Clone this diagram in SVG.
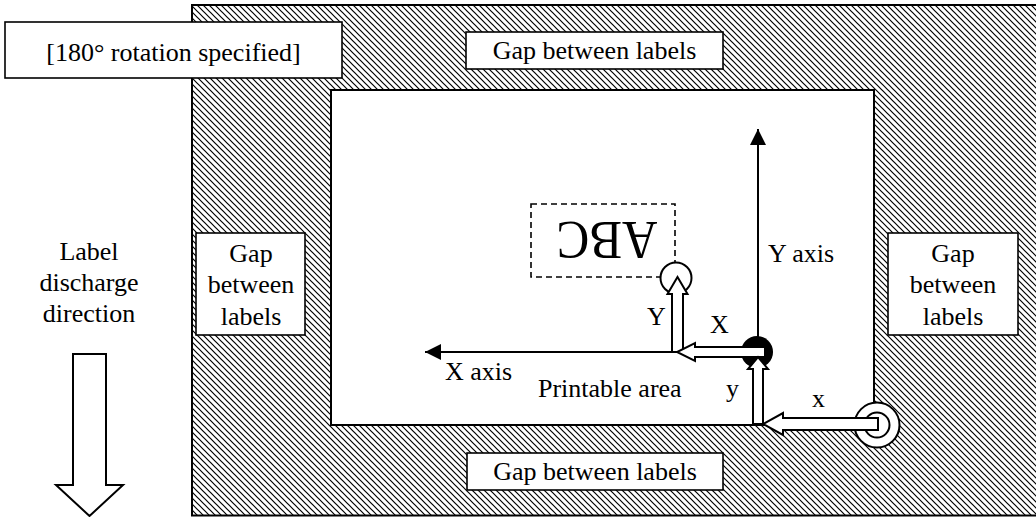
<svg xmlns="http://www.w3.org/2000/svg" width="1036" height="517" viewBox="0 0 1036 517">
<style>
text{font-family:"Liberation Serif","Times New Roman",serif;font-size:26px;fill:#000}
.c{text-anchor:middle}
.box{fill:#fff;stroke:#000;stroke-width:1.6}
.blk{fill:#fff;stroke:#000;stroke-width:2;stroke-linejoin:miter}
.axis{stroke:#000;stroke-width:2;fill:none}
</style>
<defs>
<pattern id="hatch" width="6" height="6" patternUnits="userSpaceOnUse">
<rect width="6" height="6" fill="#fff"/>
<path d="M-1,-1 L7,7 M-1,5 L1,7 M5,-1 L7,1" stroke="#000" stroke-width="1.2"/>
</pattern>
<marker id="ah" markerWidth="16" markerHeight="16" refX="16" refY="8" orient="auto" markerUnits="userSpaceOnUse">
<path d="M0,0 L16,8 L0,16 Z" fill="#000"/>
</marker>
</defs>

<g id="label-area">
<rect x="192" y="5" width="850" height="510.5" fill="url(#hatch)" stroke="#000" stroke-width="2"/>
</g>
<g id="printable-area">
<rect x="331" y="90" width="543" height="335" fill="#fff" stroke="#000" stroke-width="2"/>
<text x="538" y="397">Printable area</text>
</g>

<g id="rotation-note">
<rect class="box" x="5" y="22" width="337" height="56"/>
<text class="c" x="173.5" y="61">[180° rotation specified]</text>
</g>
<g id="gap-top">
<rect class="box" x="466" y="32" width="257" height="37"/>
<text class="c" x="594.5" y="59">Gap between labels</text>
</g>
<g id="gap-bottom">
<rect class="box" x="467" y="453" width="256" height="37"/>
<text class="c" x="595" y="480">Gap between labels</text>
</g>
<g id="gap-left">
<rect class="box" x="196" y="233" width="109" height="102"/>
<text class="c" x="251" y="262">Gap</text>
<text class="c" x="251" y="293">between</text>
<text class="c" x="251" y="325">labels</text>
</g>
<g id="gap-right">
<rect class="box" x="888" y="233" width="130" height="102"/>
<text class="c" x="953" y="262">Gap</text>
<text class="c" x="953" y="293">between</text>
<text class="c" x="953" y="325">labels</text>
</g>

<g id="discharge-direction">
<text class="c" x="89" y="260">Label</text>
<text class="c" x="89" y="291">discharge</text>
<text class="c" x="89" y="322">direction</text>
<polygon class="blk" points="73,354 106,354 106,485 123,485 89.5,516 56,485 73,485"/>
</g>

<g id="print-sample">
<rect x="531" y="204" width="144" height="73" fill="none" stroke="#000" stroke-width="1.6" stroke-dasharray="6 4"/>
<text class="c" transform="translate(607,222) rotate(180)" style="font-size:54px" textLength="101" lengthAdjust="spacingAndGlyphs">ABC</text>
</g>

<g id="connectors">
<line class="axis" x1="758" y1="345" x2="758" y2="129" marker-end="url(#ah)"/>
<line class="axis" x1="677" y1="352" x2="425" y2="352" marker-end="url(#ah)"/>
</g>

<g id="origin">
<circle cx="757" cy="352" r="16" fill="#000"/>
</g>
<g id="print-origin">
<circle cx="676" cy="278" r="15.5" fill="#fff" stroke="#000" stroke-width="2"/>
</g>
<g id="start-point">
<circle cx="877" cy="425" r="22.5" fill="#fff" stroke="#000" stroke-width="2"/>
<circle cx="877" cy="425" r="12.5" fill="#fff" stroke="#000" stroke-width="2"/>
</g>

<g id="offset-arrows">
<polygon class="blk" points="672,352 672,294 667.5,294 677.5,277 687.5,294 683,294 683,352"/>
<polygon class="blk" points="765,347 695,347 695,343 677,352 695,361 695,357 765,357"/>
<polygon class="blk" points="753,424 753,369 748,369 758,357 768,369 763,369 763,424"/>
<polygon class="blk" points="878,430 783,430 783,435 763,424 783,413 783,418 878,418"/>
</g>

<g id="axis-labels">
<text x="768" y="262">Y axis</text>
<text x="445" y="380">X axis</text>
<text x="647" y="325">Y</text>
<text x="710" y="333">X</text>
<text x="726" y="397">y</text>
<text x="812" y="407">x</text>
</g>
</svg>
